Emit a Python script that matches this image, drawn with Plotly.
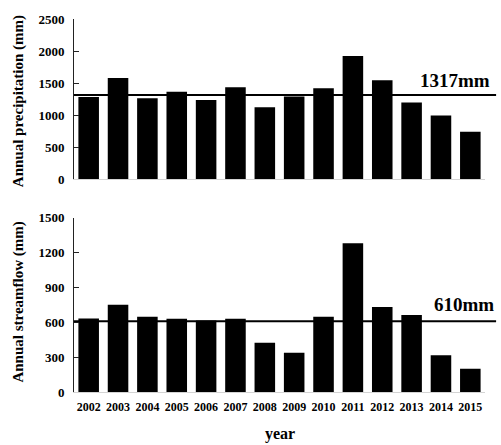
import plotly.graph_objects as go
from plotly.subplots import make_subplots

# Annual series, 2002-2015
years = ["2002", "2003", "2004", "2005", "2006", "2007", "2008",
         "2009", "2010", "2011", "2012", "2013", "2014", "2015"]
precipitation = [1285, 1581, 1265, 1367, 1239, 1437, 1123,
                 1291, 1422, 1925, 1544, 1200, 995, 742]
streamflow = [632, 751, 649, 630, 615, 630, 425,
              337, 649, 1282, 732, 664, 317, 201]

# Long-term means
precip_mean = 1317
flow_mean = 610

precip_ticks = [0, 500, 1000, 1500, 2000, 2500]
flow_ticks = [0, 300, 600, 900, 1200, 1500]

SERIF = "Liberation Serif"

fig = make_subplots(rows=2, cols=1, shared_xaxes=False,
                    vertical_spacing=0.1)

fig.add_trace(go.Bar(x=years, y=precipitation, marker_color="black",
                     marker_line_width=0, showlegend=False), row=1, col=1)
fig.add_trace(go.Bar(x=years, y=streamflow, marker_color="black",
                     marker_line_width=0, showlegend=False), row=2, col=1)

tickfont_y = dict(family=SERIF, size=13, color="black", weight="bold")
tickfont_x = dict(family=SERIF, size=12, color="black", weight="bold")

common_y = dict(showgrid=False, zeroline=False, showline=True,
                linecolor="#222222", linewidth=1, ticks="inside",
                ticklen=5, tickcolor="#222222", tickfont=tickfont_y,
                ticklabelstandoff=6)
common_x = dict(showgrid=False, zeroline=False, showline=True,
                linecolor="#d4d4d4", linewidth=1, ticks="",
                tickfont=tickfont_x)

fig.update_layout(
    width=501, height=445,
    margin=dict(l=74, r=16, t=12, b=53),
    plot_bgcolor="white", paper_bgcolor="white",
    bargap=0.3,
    xaxis=dict(domain=[0, 1], showticklabels=False, **common_x),
    xaxis2=dict(domain=[0, 1], showticklabels=True, ticklabelstandoff=4,
                **common_x),
    yaxis=dict(domain=[0.57, 1.0], range=[0, 2500], tickvals=precip_ticks,
               **common_y),
    yaxis2=dict(domain=[0.0, 0.467], range=[0, 1500], tickvals=flow_ticks,
                **common_y),
)

# Mean lines, running a little past the right edge of the plot
fig.add_shape(type="line", xref="x domain", yref="y", x0=0, x1=1.027,
              y0=precip_mean, y1=precip_mean,
              line=dict(color="black", width=2))
fig.add_shape(type="line", xref="x2 domain", yref="y2", x0=0, x1=1.027,
              y0=flow_mean, y1=flow_mean,
              line=dict(color="black", width=2))

label_font = dict(family=SERIF, size=19, color="black", weight="bold")
fig.add_annotation(text=f"{precip_mean}mm", xref="paper", yref="y",
                   x=1.017, y=precip_mean + 230, xanchor="right",
                   yanchor="middle", showarrow=False, font=label_font)
fig.add_annotation(text=f"{flow_mean}mm", xref="paper", yref="y2",
                   x=1.027, y=flow_mean + 140, xanchor="right",
                   yanchor="middle", showarrow=False, font=label_font)

title_font = dict(family=SERIF, size=15, color="black", weight="bold")
fig.add_annotation(text="Annual precipitation (mm)", textangle=-90,
                   xref="paper", yref="paper", x=-0.136, y=0.78,
                   xanchor="center", yanchor="middle", showarrow=False,
                   font=title_font)
fig.add_annotation(text="Annual streamflow (mm)", textangle=-90,
                   xref="paper", yref="paper", x=-0.136, y=0.24,
                   xanchor="center", yanchor="middle", showarrow=False,
                   font=title_font)
fig.add_annotation(text="year", xref="paper", yref="paper",
                   x=0.501, y=-0.112, xanchor="center", yanchor="middle",
                   showarrow=False,
                   font=dict(family=SERIF, size=16, color="black",
                             weight="bold"))

fig.write_html("out.html")
